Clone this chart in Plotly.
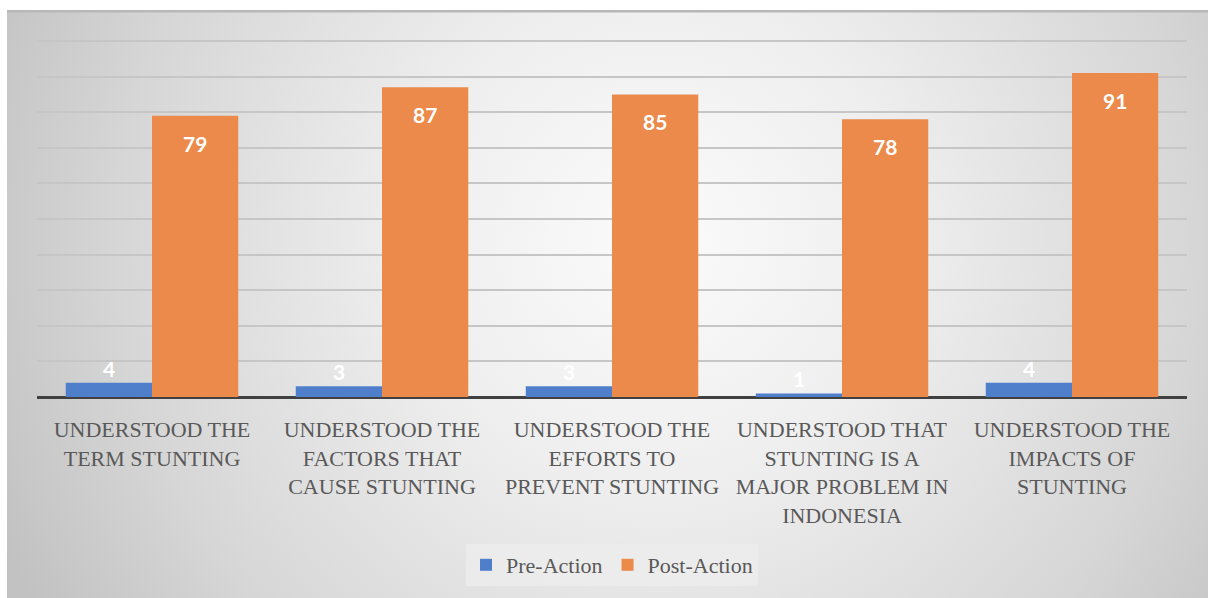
import plotly.graph_objects as go
import urllib.parse

categories = [
    "UNDERSTOOD THE<br>TERM STUNTING",
    "UNDERSTOOD THE<br>FACTORS THAT<br>CAUSE STUNTING",
    "UNDERSTOOD THE<br>EFFORTS TO<br>PREVENT STUNTING",
    "UNDERSTOOD THAT<br>STUNTING IS A<br>MAJOR PROBLEM IN<br>INDONESIA",
    "UNDERSTOOD THE<br>IMPACTS OF<br>STUNTING",
]
pre_action = [4, 3, 3, 1, 4]
post_action = [79, 87, 85, 78, 91]

BLUE = "#4F7FCB"
ORANGE = "#EB8A4A"
SERIF = "'Liberation Serif', 'Times New Roman', 'DejaVu Serif', serif"

OFF = 0  # page body margin (reset via post_script)
W, H = 1208 - OFF, 598 - OFF
L, T = 37 - OFF, 40 - OFF
R = W - (1187 - OFF)
B = H - (397 - OFF)
pw, ph = W - L - R, H - T - B
YMAX = 100.3

def px_x(px):
    return (px - OFF - L) / pw

def px_y(py):
    return (H - B - (py - OFF)) / ph

svg = (
    "<svg xmlns='http://www.w3.org/2000/svg' width='1201' height='588' preserveAspectRatio='none' viewBox='0 0 1201 588'>"
    "<defs><radialGradient id='g' gradientUnits='userSpaceOnUse' cx='650' cy='230' r='720'>"
    "<stop offset='0' stop-color='#fbfbfb'/>"
    "<stop offset='0.35' stop-color='#eeeeee'/>"
    "<stop offset='0.75' stop-color='#d6d6d6'/>"
    "<stop offset='1' stop-color='#c2c2c2'/>"
    "</radialGradient></defs>"
    "<rect x='0' y='0' width='1201' height='588' fill='url(#g)'/>"
    "<rect x='0' y='0' width='1201' height='2.5' fill='#b8b8b8'/>"
    "</svg>"
)
img_src = "data:image/svg+xml;charset=utf-8," + urllib.parse.quote(svg)

fig = go.Figure()
fig.add_trace(go.Bar(name="Pre-Action", x=list(range(5)), y=pre_action,
                     marker=dict(color=BLUE, line=dict(width=0))))
fig.add_trace(go.Bar(name="Post-Action", x=list(range(5)), y=post_action,
                     marker=dict(color=ORANGE, line=dict(width=0))))

bargap = 0.25
half = (1 - bargap) / 4
annots = []
for i, v in enumerate(pre_action):
    annots.append(dict(x=i - half, y=v, xref="x", yref="y", text=f"<b>{v}</b>",
                       showarrow=False, yanchor="bottom", yshift=0,
                       font=dict(family="Lato", size=21, color="white")))
for i, v in enumerate(post_action):
    annots.append(dict(x=i + half, y=v, xref="x", yref="y", text=f"<b>{v}</b>",
                       showarrow=False, yanchor="top", yshift=-13,
                       font=dict(family="Lato", size=21, color="white")))

white_frame = [
    dict(type="rect", xref="paper", yref="paper", layer="above",
         x0=px_x(-5), x1=px_x(7), y0=px_y(-5), y1=px_y(605),
         fillcolor="white", line=dict(width=0)),
    dict(type="rect", xref="paper", yref="paper", layer="above",
         x0=px_x(-5), x1=px_x(1215), y0=px_y(-5), y1=px_y(10),
         fillcolor="white", line=dict(width=0)),
]

fig.update_layout(
    width=W, height=H,
    margin=dict(l=L, r=R, t=T, b=B),
    paper_bgcolor="#c9c9c9",
    plot_bgcolor="rgba(0,0,0,0)",
    barmode="group",
    bargap=bargap,
    bargroupgap=0,
    annotations=annots,
    shapes=white_frame,
    images=[dict(source=img_src, xref="paper", yref="paper",
                 x=px_x(7), y=px_y(10), sizex=px_x(1208) - px_x(7), sizey=px_y(10) - px_y(598),
                 xanchor="left", yanchor="top", sizing="stretch", layer="below")],
    legend=dict(orientation="h", x=px_x(612), xanchor="center", y=px_y(565), yanchor="middle",
                bgcolor="rgba(236,236,236,0.85)", borderwidth=0,
                font=dict(family=SERIF, size=22, color="#595959"),
                itemwidth=30, traceorder="normal"),
    xaxis=dict(tickmode="array", tickvals=list(range(5)), ticktext=categories,
               range=[-0.5, 4.5], showgrid=False, zeroline=False, showline=False,
               ticks="", ticklabelstandoff=17,
               tickfont=dict(family=SERIF, size=22, color="#595959")),
    yaxis=dict(range=[0, YMAX], tickmode="array", tickvals=list(range(0, 101, 10)),
               showticklabels=False, showgrid=True,
               gridcolor="#c6c6c6", gridwidth=2, zeroline=True, zerolinecolor="#404040",
               zerolinewidth=3, showline=False, ticks=""),
    showlegend=True,
)

fig.write_html("out.html", config={"displayModeBar": False},
               post_script="document.body.style.margin='0';document.body.style.overflow='hidden';")
